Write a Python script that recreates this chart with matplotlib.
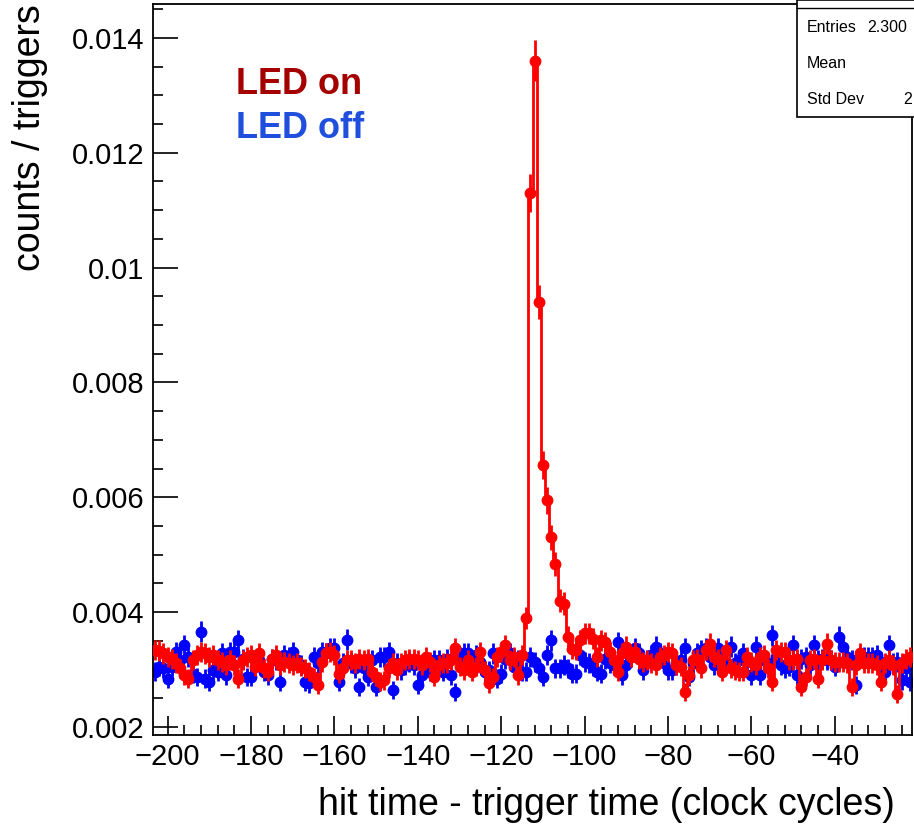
import numpy as np
import matplotlib
matplotlib.use("Agg")
import matplotlib.pyplot as plt
from matplotlib.ticker import MultipleLocator, FuncFormatter
from matplotlib.patches import Rectangle
from matplotlib.lines import Line2D

plt.rcParams['font.family'] = ['Liberation Sans', 'DejaVu Sans']

# bins of 1 clock cycle, centres -203 ... -22
first_bin = -203
last_bin = -22

# counts / triggers, in units of 1e-3
led_on_e3 = [
    # -203 .. -142
    3.34, 3.33, 3.28, 3.22, 3.19, 3.11, 3.02, 2.90, 2.84, 3.16,
    3.25, 3.31, 3.28, 3.22, 3.25, 3.16, 3.13, 3.08, 3.16, 3.08,
    2.84, 3.16, 3.22, 3.25, 3.05, 3.28, 3.02, 2.96, 3.19, 3.25,
    3.08, 3.13, 3.11, 3.08, 3.11, 3.05, 3.02, 2.96, 2.87, 2.73,
    3.13, 3.28, 3.31, 3.25, 2.93, 3.02, 3.16, 3.16, 3.11, 3.19,
    3.16, 3.19, 2.96, 2.87, 2.79, 2.81, 3.02, 3.11, 2.99, 3.11,
    3.16, 3.19,
    # -141 .. -115
    3.19, 3.16, 3.08, 3.22, 3.13, 2.87, 3.08, 3.11, 3.11, 3.16,
    3.37, 3.05, 2.99, 3.16, 2.96, 3.05, 3.31, 2.99, 2.76, 2.87,
    3.22, 3.31, 3.42, 3.16, 3.22, 2.90, 3.25,
    # -114 .. -103 (LED pulse)
    3.90, 11.3, 13.6, 9.40, 6.56, 5.95, 5.30, 4.84, 4.20, 4.15,
    3.57, 3.36,
    # -102 .. -81
    3.34, 3.51, 3.63, 3.63, 3.54, 3.22, 3.51, 3.48, 3.31, 3.16,
    2.96, 3.28, 3.40, 3.22, 3.31, 3.19, 3.13, 3.16, 3.11, 3.08,
    3.22, 3.25,
    # -80 .. -22
    3.31, 3.28, 3.08, 3.05, 2.61, 2.90, 3.16, 3.19, 3.02, 3.34,
    3.45, 3.22, 3.19, 2.96, 3.34, 3.02, 2.99, 2.96, 2.96, 3.22,
    3.13, 3.08, 3.22, 3.25, 3.02, 2.79, 3.34, 3.31, 3.31, 3.16,
    3.16, 3.19, 2.70, 2.87, 3.16, 3.19, 2.84, 3.16, 3.45, 3.16,
    3.13, 3.13, 3.13, 3.11, 2.70, 3.08, 3.28, 3.11, 3.11, 3.11,
    3.08, 2.79, 3.11, 3.16, 3.08, 2.58, 3.11, 3.19, 3.22,
]

led_off_e3 = [
    # -203 .. -142
    2.96, 3.05, 3.02, 2.84, 3.05, 3.31, 3.16, 3.42, 3.22, 2.93,
    2.87, 3.66, 2.84, 2.79, 2.99, 2.96, 3.28, 2.90, 3.31, 3.31,
    3.51, 3.19, 2.87, 2.87, 3.16, 3.16, 2.96, 2.90, 3.19, 3.16,
    2.79, 3.25, 3.22, 3.31, 3.16, 3.08, 2.79, 2.76, 3.22, 3.11,
    3.31, 3.28, 3.37, 3.37, 2.79, 3.11, 3.52, 3.11, 3.02, 2.70,
    3.02, 2.87, 3.16, 2.70, 3.22, 3.22, 3.31, 2.64, 3.11, 2.99,
    3.08, 3.13,
    # -141 .. -81
    3.08, 2.73, 2.90, 3.13, 2.96, 3.16, 3.16, 2.96, 3.19, 2.90,
    2.61, 3.22, 3.28, 3.28, 3.11, 3.25, 3.13, 2.96, 2.99, 3.28,
    2.84, 2.93, 3.19, 3.28, 3.05, 3.16, 2.96, 2.96, 3.22, 3.13,
    3.02, 2.87, 3.25, 3.51, 3.02, 3.02, 3.08, 3.02, 2.93, 2.93,
    3.25, 3.13, 3.11, 3.05, 2.96, 2.93, 3.19, 3.11, 3.08, 3.48,
    2.90, 3.08, 3.22, 3.37, 3.28, 2.99, 3.16, 3.25, 3.40, 3.28,
    3.11,
    # -80 .. -22
    2.99, 2.99, 3.08, 3.16, 3.37, 2.87, 3.11, 3.28, 3.34, 3.37,
    3.22, 3.08, 3.37, 3.16, 3.11, 3.40, 3.11, 3.16, 3.28, 3.16,
    2.90, 3.40, 2.90, 3.16, 3.11, 3.60, 3.22, 3.08, 3.02, 3.05,
    3.42, 2.90, 3.19, 3.22, 3.08, 3.42, 3.16, 3.19, 3.16, 3.16,
    3.05, 3.57, 3.40, 3.22, 3.16, 2.73, 3.22, 3.22, 3.22, 3.22,
    3.25, 3.13, 2.96, 3.42, 3.11, 3.13, 2.81, 3.02, 2.79,
]

x_ticks = [-200, -180, -160, -140, -120, -100, -80, -60, -40]
y_ticks = [0.002, 0.004, 0.006, 0.008, 0.010, 0.012, 0.014]

centres = np.arange(first_bin, last_bin + 1)
edges = np.arange(first_bin - 0.5, last_bin + 1.0)
led_on = np.array(led_on_e3) * 1e-3
led_off = np.array(led_off_e3) * 1e-3
# poisson-like errors, scaled to the baseline bar size
err_on = 0.00017 * np.sqrt(led_on / 0.0031)
err_off = 0.00017 * np.sqrt(led_off / 0.0031)

W, H = 914, 831
fig = plt.figure(figsize=(W / 100, H / 100), dpi=100)
ax = fig.add_axes([153 / W, 1 - 735 / H, (912 - 153) / W, (735 - 4) / H])

RED = '#ff0000'
BLUE = '#0000ff'

ax.errorbar(centres, led_off, yerr=err_off, fmt='o', color=BLUE, ms=7.5,
            elinewidth=2, capsize=0, zorder=2)
ax.stairs(led_on, edges, color=RED, lw=2, baseline=None, zorder=3)
ax.errorbar(centres, led_on, yerr=err_on, fmt='o', color=RED, ms=7.5,
            elinewidth=2, capsize=0, zorder=4)

ax.set_xlim(first_bin - 0.5, last_bin + 0.5)
ax.set_ylim(0.00186, 0.01459)
ax.set_xticks(x_ticks)
ax.set_yticks(y_ticks)
ax.xaxis.set_minor_locator(MultipleLocator(4))
ax.yaxis.set_minor_locator(MultipleLocator(0.0005))
ax.yaxis.set_major_formatter(FuncFormatter(lambda v, p: f"{v:g}"))
ax.tick_params(which='both', direction='in', labelsize=21, width=1.2)
ax.tick_params(which='major', length=14, pad=6)
ax.tick_params(which='minor', length=7)
ax.tick_params(axis='y', which='major', length=18)
for s in ax.spines.values():
    s.set_linewidth(1.3)

fig.text(30 / W, 1 - 4 / H, 'counts / triggers', rotation=90, ha='center',
         va='top', fontsize=27)
fig.text(895 / W, 1 - 805 / H, 'hit time - trigger time (clock cycles)',
         ha='right', va='center', fontsize=27)

fig.text(236 / W, 1 - 85 / H, 'LED on', color='#a50000', fontsize=26,
         fontweight='bold', va='center')
fig.text(236 / W, 1 - 128 / H, 'LED off', color='#1f4fdc', fontsize=26,
         fontweight='bold', va='center')

# stats box, cut by the image edge
fig.patches.append(Rectangle((797 / W, 1 - 117 / H), 0.2, 117 / H,
                             transform=fig.transFigure, facecolor='white',
                             edgecolor='black', lw=1.2, zorder=5))
fig.lines.append(Line2D([797 / W, 1.0], [1 - 8 / H, 1 - 8 / H],
                        transform=fig.transFigure, color='black', lw=1.0,
                        zorder=6))
stats_rows = [('Entries', '2.300', 27, 867), ('Mean', '', 63, 0),
              ('Std Dev', '2', 100, 903)]
for name, val, yy, xv in stats_rows:
    fig.text(807 / W, 1 - yy / H, name, fontsize=11.5, va='center', zorder=7)
    if val:
        fig.text(xv / W, 1 - yy / H, val, fontsize=11.5, va='center', zorder=7)

fig.savefig('out.png', dpi=100)
